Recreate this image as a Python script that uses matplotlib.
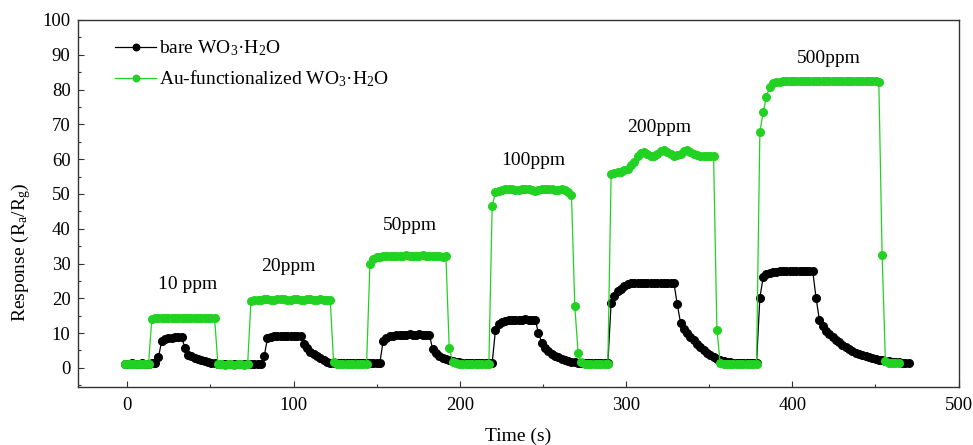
import numpy as np
import matplotlib
matplotlib.use('Agg')
import matplotlib.pyplot as plt
from matplotlib.ticker import MultipleLocator

plt.rcParams['font.family'] = ['Liberation Serif', 'DejaVu Serif']
plt.rcParams['mathtext.fontset'] = 'custom'
plt.rcParams['mathtext.rm'] = 'Liberation Serif'
plt.rcParams['mathtext.it'] = 'Liberation Serif:italic'
plt.rcParams['mathtext.bf'] = 'Liberation Serif:bold'

# ---- data ----
t_start = -1.2      # time of first sample (s)
t_step = 1.988      # sampling interval (s)

bare_resp = [
    1.2, 1.2, 1.3, 1.2, 1.2, 1.3, 1.2, 1.2, 1.3, 1.3,
    3.0, 7.8, 8.4, 8.6, 8.7, 8.8, 8.8, 8.9,
    5.8, 3.8, 3.3, 2.9, 2.6, 2.3, 2.0, 1.8, 1.5, 1.3,
    1.1, 1.0, 1.0, 1.0, 1.0, 1.0, 1.0, 1.0, 1.0, 1.0, 1.0, 1.0, 1.0, 1.0,
    3.3, 8.5, 9.0, 9.1, 9.1, 9.2, 9.1, 9.2, 9.1, 9.2, 9.2, 9.1,
    7.0, 5.6, 4.6, 4.0, 3.3, 2.7, 2.2, 1.8, 1.5, 1.3,
    1.3, 1.3, 1.3, 1.3, 1.3, 1.3, 1.3, 1.3, 1.3, 1.3, 1.3, 1.3, 1.3, 1.4,
    7.7, 8.7, 9.1, 9.3, 9.4, 9.5, 9.5, 9.5, 9.6, 9.5, 9.5, 9.6, 9.5, 9.5, 9.5,
    5.3, 4.2, 3.5, 2.9, 2.5, 2.2, 2.0, 1.8,
    1.6, 1.5, 1.5, 1.5, 1.4, 1.4, 1.4, 1.4, 1.4, 1.4, 1.4,
    11.0, 12.5, 13.2, 13.6, 13.8, 13.9, 13.9, 13.9, 13.9, 14.0, 13.9, 13.9, 13.9,
    10.1, 7.2, 5.8, 4.8, 4.1, 3.5, 3.0, 2.6, 2.3, 2.0, 1.8, 1.6,
    1.5, 1.5, 1.4, 1.4, 1.4, 1.4, 1.4, 1.4, 1.4, 1.4,
    18.7, 20.8, 22.0, 22.8, 23.4, 24.0, 24.3, 24.4, 24.4, 24.4,
    24.4, 24.5, 24.4, 24.4, 24.4, 24.5, 24.4, 24.4, 24.4, 24.4,
    18.3, 13.0, 11.2, 10.0, 9.0, 8.0, 7.0, 6.0, 5.2, 4.4, 3.7, 3.1, 2.6, 2.3, 2.0, 1.8, 1.7,
    1.5, 1.5, 1.4, 1.4, 1.4, 1.4, 1.4, 1.4,
    20.2, 26.0, 27.0, 27.4, 27.6, 27.7, 27.8, 27.8, 27.8, 27.8, 27.9, 27.8, 27.8, 27.9, 27.8, 27.8, 27.8,
    20.2, 13.9, 12.0, 10.6, 9.6, 8.8, 8.0, 7.3, 6.7, 6.0, 5.4, 4.9, 4.4, 4.0, 3.6,
    3.3, 3.0, 2.8, 2.6, 2.4, 2.2, 2.0, 1.9, 1.8, 1.7, 1.6, 1.5, 1.4, 1.3,
]

au_resp = [
    1.0, 1.0, 1.1, 1.0, 1.0, 1.1, 1.0, 1.0,
    14.0, 14.2, 14.3, 14.2, 14.3, 14.3, 14.2, 14.3, 14.3, 14.2,
    14.3, 14.2, 14.3, 14.3, 14.2, 14.3, 14.2, 14.3, 14.2, 14.3,
    1.0, 1.0, 0.9, 1.0, 1.0, 0.9, 1.0, 1.0, 0.9, 1.0,
    19.2, 19.4, 19.5, 19.6, 19.7, 19.8, 19.6, 19.5, 19.7, 19.8, 19.7, 19.5, 19.6,
    19.8, 19.7, 19.6, 19.5, 19.7, 19.8, 19.6, 19.5, 19.7, 19.6, 19.6, 19.5,
    1.6,
    1.2, 1.2, 1.1, 1.2, 1.2, 1.1, 1.2, 1.2, 1.1, 1.2,
    29.8, 31.3, 31.8, 32.0, 32.1, 32.2, 32.1, 32.3, 32.2, 32.1, 32.3, 32.4,
    32.2, 32.1, 32.3, 32.2, 32.4, 32.3, 32.2, 32.1, 32.3, 32.2, 32.0, 32.1,
    5.8,
    1.8, 1.3, 1.2, 1.2, 1.1, 1.2, 1.2, 1.1, 1.2, 1.2, 1.1, 1.2,
    46.6, 50.5, 50.9, 51.2, 51.4, 51.3, 51.5, 51.2, 51.0, 51.3, 51.5, 51.4, 51.2,
    50.9, 51.2, 51.4, 51.3, 51.5, 51.4, 51.2, 51.0, 51.3, 51.1, 50.5, 49.6,
    17.8, 4.3, 1.6,
    1.2, 1.2, 1.1, 1.2, 1.2, 1.1, 1.2, 1.2,
    55.8, 56.0, 56.2, 56.3, 56.8, 57.3, 58.2, 59.3, 60.8, 61.8, 62.0, 61.6, 61.0, 61.0, 61.6, 62.2,
    62.5, 62.0, 61.4, 61.0, 61.2, 61.6, 62.2, 62.5, 62.0, 61.6, 61.3, 61.0, 61.0, 60.9, 61.0, 60.8,
    11.0,
    1.3, 1.2, 1.2, 1.1, 1.2, 1.2, 1.1, 1.2, 1.2, 1.1, 1.2, 1.2,
    67.8, 73.5, 78.0, 80.8, 81.8, 82.2,
    82.3, 82.4, 82.4, 82.5, 82.4, 82.4, 82.5, 82.4, 82.4, 82.4, 82.5, 82.4, 82.4, 82.4, 82.5, 82.4,
    82.4, 82.4, 82.5, 82.4, 82.4, 82.4, 82.5, 82.4, 82.4, 82.4, 82.5, 82.4, 82.4, 82.4, 82.3,
    32.4,
    1.9, 1.4, 1.3, 1.3, 1.3,
]

conc_labels = ['10 ppm', '20ppm', '50ppm', '100ppm', '200ppm', '500ppm']
conc_label_time = [36, 97, 170, 244, 320, 422]
conc_label_resp = [24.0, 29.0, 41.0, 59.5, 69.0, 89.0]

series_names = ['bare WO$_3$·H$_2$O', 'Au-functionalized WO$_3$·H$_2$O']
series_colors = ['#000000', '#22d222']

x_ticks = [0, 100, 200, 300, 400, 500]
y_ticks = [0, 10, 20, 30, 40, 50, 60, 70, 80, 90, 100]

bare_time = t_start + t_step * np.arange(len(bare_resp))
au_time = t_start + t_step * np.arange(len(au_resp))

# ---- figure ----
W, H = 973, 445
fig = plt.figure(figsize=(W / 100, H / 100), dpi=100)
ax = fig.add_axes([77.5 / W, 1 - 387 / H, 881 / W, 367 / H])

for tt, yy, name, col in zip([bare_time, au_time], [bare_resp, au_resp],
                             series_names, series_colors):
    ax.plot(tt, yy, '-o', color=col, lw=0.9, ms=5.5, mec=col, mfc=col, label=name)

for lab, tx, ty in zip(conc_labels, conc_label_time, conc_label_resp):
    ax.text(tx, ty, lab, ha='center', va='center', fontsize=14)

ax.set_xlim(-30, 500)
ax.set_ylim(-5.5, 100)
ax.set_xticks(x_ticks)
ax.set_yticks(y_ticks)
ax.xaxis.set_minor_locator(MultipleLocator(50))
ax.yaxis.set_minor_locator(MultipleLocator(5))
ax.tick_params(which='both', direction='in', top=False, right=False, width=0.8, color='#333333')
ax.tick_params(which='major', length=4.5)
ax.tick_params(which='minor', length=2.5)
ax.tick_params(axis='x', labelsize=13.5, pad=7)
ax.tick_params(axis='y', labelsize=13.5, pad=5)
for sp in ax.spines.values():
    sp.set_linewidth(1.0)
    sp.set_color('#333333')

ax.set_xlabel('Time (s)', fontsize=14)
ax.set_ylabel('Response (R$_\\mathrm{a}$/R$_\\mathrm{g}$)', fontsize=14)
ax.xaxis.set_label_coords(0.5, -0.112)
ax.yaxis.set_label_coords(-0.05, 0.368)

ax.legend(loc='upper left', bbox_to_anchor=(0.043, 0.95), frameon=False, fontsize=14,
          handlelength=2.1, handletextpad=0.15, labelspacing=0.55,
          borderpad=0, borderaxespad=0, markerscale=0.85)

fig.savefig('out.png', dpi=100, facecolor='white')
